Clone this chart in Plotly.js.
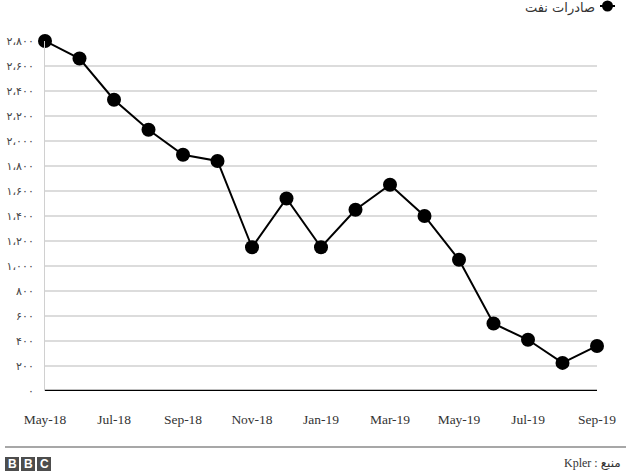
<!DOCTYPE html>
<html>
<head>
<meta charset="utf-8">
<script src="https://cdn.plot.ly/plotly-3.0.1.min.js"></script>
<style>html,body{margin:0;padding:0;background:#fff;}#chart{width:640px;height:476px;}</style>
</head>
<body>
<div id="chart"></div>
<script>
const months = ["May-18","Jun-18","Jul-18","Aug-18","Sep-18","Oct-18","Nov-18","Dec-18","Jan-19","Feb-19","Mar-19","Apr-19","May-19","Jun-19","Jul-19","Aug-19","Sep-19"];
const exports = [2800,2660,2330,2090,1890,1840,1150,1540,1150,1450,1650,1400,1050,540,410,225,360];
const xTickVals = ["May-18","Jul-18","Sep-18","Nov-18","Jan-19","Mar-19","May-19","Jul-19","Sep-19"];
const yTickVals = [0,200,400,600,800,1000,1200,1400,1600,1800,2000,2200,2400,2600,2800];
const yTickText = ["۰","۲۰۰","۴۰۰","۶۰۰","۸۰۰","۱،۰۰۰","۱،۲۰۰","۱،۴۰۰","۱،۶۰۰","۱،۸۰۰","۲،۰۰۰","۲،۲۰۰","۲،۴۰۰","۲،۶۰۰","۲،۸۰۰"];
const seriesName = "صادرات نفت";
const sourceText = "Kpler : منبع";

// pixel -> paper helpers for decorations
const L = 45, R = 597, T = 41, B = 391;
const px = p => (p - L) / (R - L);
const py = p => (B - p) / (B - T);

const trace = {
  x: months, y: exports, type: 'scatter', mode: 'lines+markers',
  name: seriesName, cliponaxis: false,
  line: {color: '#000', width: 2},
  marker: {color: '#000', size: 14},
  showlegend: false
};

const logoShapes = [];
const logoAnn = [];
["B","B","C"].forEach((ch, i) => {
  const x0 = 5 + i * 16;
  logoShapes.push({type:'rect', xref:'paper', yref:'paper', x0: px(x0), x1: px(x0+14), y0: py(471), y1: py(457), fillcolor:'#4d4d4d', line:{width:0}});
  logoAnn.push({xref:'paper', yref:'paper', x: px(x0+7), y: py(464), text: ch, showarrow:false, font:{family:'Liberation Sans, Arial', size:12, color:'#fff', weight:'bold'}, xanchor:'center', yanchor:'middle'});
});

const layout = {
  width: 640, height: 476,
  margin: {l: L, r: 640 - R, t: T, b: 476 - B, pad: 0},
  paper_bgcolor: '#fff', plot_bgcolor: '#fff',
  font: {family: 'Liberation Serif, DejaVu Serif, serif', size: 13, color: '#333'},
  xaxis: {
    type: 'category', range: [0, 16], tickvals: xTickVals, ticktext: xTickVals,
    showgrid: false, zeroline: false, showline: false,
    ticks: 'outside', ticklen: 16, tickcolor: 'rgba(0,0,0,0)',
    tickfont: {family: 'Liberation Serif, DejaVu Serif, serif', size: 13.5, color: '#333'}
  },
  yaxis: {
    range: [0, 2800], tickvals: yTickVals, ticktext: yTickText,
    showgrid: true, gridcolor: '#dcdcdc', gridwidth: 1.5,
    zeroline: false, showline: true, linecolor: '#d0d0d0', linewidth: 1,
    ticks: 'outside', ticklen: 8, tickcolor: 'rgba(0,0,0,0)',
    tickfont: {family: 'DejaVu Sans, sans-serif', size: 11, color: '#444'}
  },
  shapes: [
    {type:'line', xref:'paper', yref:'y', x0: 0, x1: 1, y0: 0, y1: 0, line:{color:'#000', width:2.5}},
    {type:'line', xref:'paper', yref:'paper', x0: px(5), x1: px(626), y0: py(447), y1: py(447), line:{color:'#8a8a8a', width:1.5}},
    {type:'line', xref:'paper', yref:'paper', x0: px(600), x1: px(615), y0: py(6), y1: py(6), line:{color:'#000', width:2}},
    {type:'circle', xref:'paper', yref:'paper', x0: px(602), x1: px(613), y0: py(11.5), y1: py(0.5), fillcolor:'#000', line:{color:'#000', width:0}}
  ].concat(logoShapes),
  annotations: [
    {xref:'paper', yref:'paper', x: px(597), y: py(8), text: seriesName, showarrow:false, xanchor:'right', yanchor:'middle', font:{family:'DejaVu Sans, sans-serif', size:13, color:'#333'}},
    {xref:'paper', yref:'paper', x: px(623), y: py(463), text: sourceText, showarrow:false, xanchor:'right', yanchor:'middle', font:{family:'Liberation Serif, DejaVu Sans, serif', size:12, color:'#333'}}
  ].concat(logoAnn)
};

Plotly.newPlot('chart', [trace], layout, {displayModeBar: false, responsive: false});
</script>
</body>
</html>
